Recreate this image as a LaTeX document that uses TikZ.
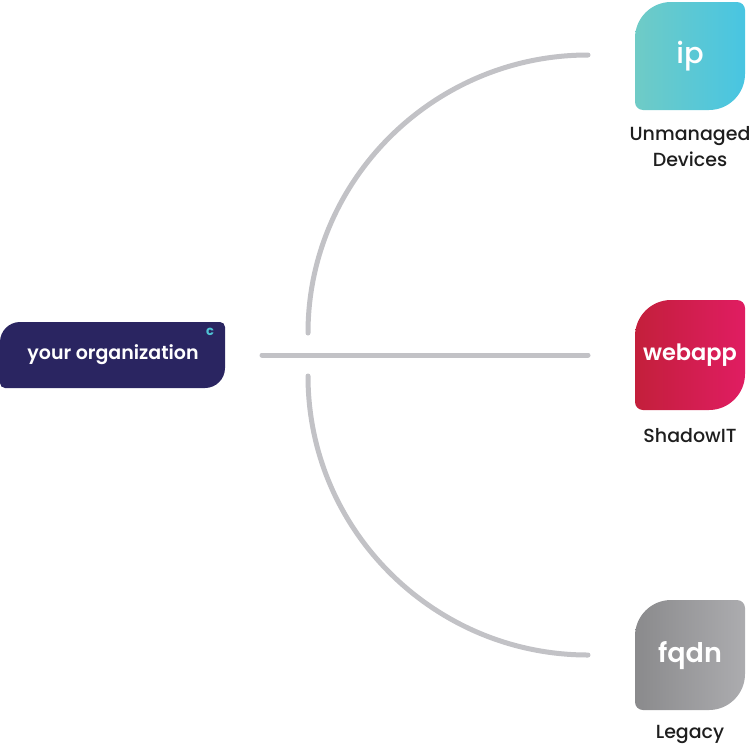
\documentclass[tikz,border=0pt]{standalone}
\usepackage{fontspec}
\setmainfont{Poppins}
\newfontfamily\popsemi{Poppins SemiBold}
\newfontfamily\popmed{Poppins Medium}
\definecolor{navy}{HTML}{2A2561}
\definecolor{linegray}{HTML}{C2C2C6}
\definecolor{tealA}{HTML}{6FCBC6}
\definecolor{tealB}{HTML}{48C5E2}
\definecolor{redA}{HTML}{C31F3B}
\definecolor{redB}{HTML}{E01D62}
\definecolor{grayA}{HTML}{8A8A8C}
\definecolor{grayB}{HTML}{ACACAF}
\definecolor{txt}{HTML}{1E1E1E}
\definecolor{logoteal}{HTML}{4FC3D4}
% leaf shape: #1 x0, #2 y0, #3 x1, #4 y1, #5 big r, #6 small r (y downward)
\newcommand{\leafpath}[6]{%
 (#1+#5,#2) -- (#3-#6,#2) .. controls (#3-0.45*#6,#2) and (#3,#2+0.45*#6) .. (#3,#2+#6)
 -- (#3,#4-#5) .. controls (#3,#4-0.45*#5) and (#3-0.45*#5,#4) .. (#3-#5,#4)
 -- (#1+#6,#4) .. controls (#1+0.45*#6,#4) and (#1,#4-0.45*#6) .. (#1,#4-#6)
 -- (#1,#2+#5) .. controls (#1,#2+0.45*#5) and (#1+0.45*#5,#2) .. (#1+#5,#2) -- cycle}
\tikzset{
 conn/.style={draw=linegray,line width=5pt,line cap=round},
 icontext/.style={text=white,inner sep=0pt},
 label/.style={text=txt,font=\popmed\fontsize{19}{26}\selectfont,align=center,inner sep=0pt},
}
\begin{document}
\begin{tikzpicture}[x=1pt,y=-1pt]
\useasboundingbox (0,0) rectangle (752,745);
% connectors
\coordinate (hstart) at (262,355);
\coordinate (topend) at (308,333);
\coordinate (botstart) at (308,376);
\coordinate (ipin) at (588,55);
\coordinate (webin) at (588,355);
\coordinate (fqin) at (588,655);
\draw[conn] (hstart) -- (webin);
\draw[conn] (ipin) .. controls +(-154,0) and +(0,-153) .. (topend);
\draw[conn] (botstart) .. controls +(0,154) and +(-154,0) .. (fqin);
% organization box
\path[fill=navy] \leafpath{0}{322}{225}{388}{20}{5};
\node[text=white,font=\popsemi\fontsize{19}{22}\selectfont,inner sep=0pt] (org) at (113,355) {your organization};
\node[text=logoteal,font=\bfseries\fontsize{13}{13}\selectfont,inner sep=0pt] (logo) at (210,332) {c};
% icons
\path[left color=tealA,right color=tealB] \leafpath{635}{2}{745}{110}{36}{8};
\node[icontext,font=\popmed\fontsize{29}{30}\selectfont] (ip) at (690,56) {ip};
\path[left color=redA,right color=redB] \leafpath{635}{300}{745}{410}{36}{8};
\node[icontext,font=\popsemi\fontsize{22.5}{26}\selectfont] (web) at (690,355) {webapp};
\path[left color=grayA,right color=grayB] \leafpath{635}{600}{745}{710}{36}{8};
\node[icontext,font=\popsemi\fontsize{27}{28}\selectfont] (fq) at (690,656) {fqdn};
% labels
\node[label] (l1) at (690,147) {Unmanaged\\Devices};
\node[label] (l2) at (690,436) {ShadowIT};
\node[label] (l3) at (690,734) {Legacy};
\end{tikzpicture}
\end{document}
